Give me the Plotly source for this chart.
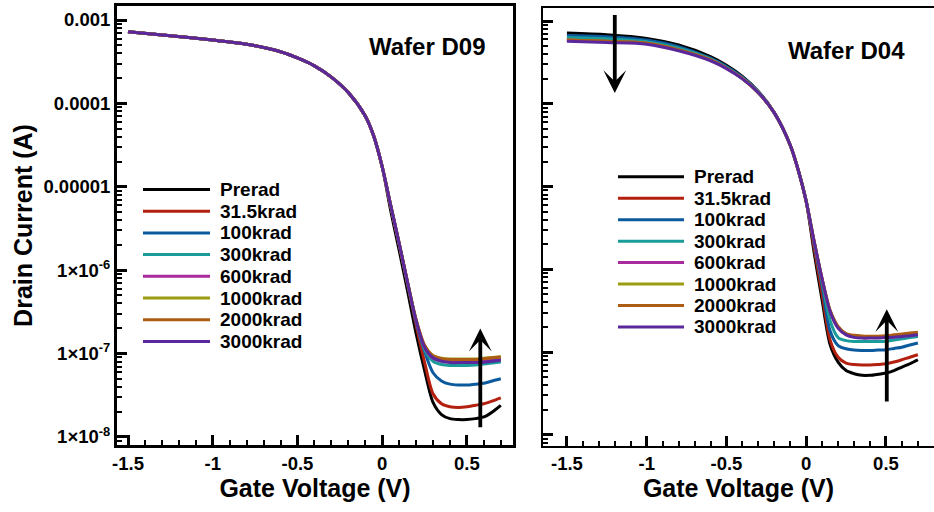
import plotly.graph_objects as go

W, H = 934, 512

# ---------------- data ----------------
gate_v = [-1.5, -1.25, -1.0, -0.8, -0.6, -0.5, -0.4, -0.3, -0.2, -0.1, -0.05, 0.0,
          0.05, 0.1, 0.15, 0.2, 0.25, 0.3, 0.35, 0.4, 0.45, 0.5, 0.55, 0.6, 0.65, 0.7]

doses = ["Prerad", "31.5krad", "100krad", "300krad", "600krad", "1000krad", "2000krad", "3000krad"]
colors = ["#000000", "#B3200F", "#0B5A9E", "#1A9C9A", "#A82A9C", "#9C9C12", "#AD5C14", "#5A289C"]

# Wafer D09: on-state part (-1.5 .. 0.0 V), identical for all doses
d09_head = [7.24e-4, 6.46e-4, 5.75e-4, 5.13e-4, 4.17e-4, 3.51e-4, 2.82e-4, 2.07e-4, 1.35e-4, 7.08e-5, 4.07e-5, 1.74e-5]
# Wafer D09: 0.05 .. 0.7 V
d09_prerad = [5.2e-6, 1.74e-6, 5.6e-7, 1.74e-7, 6.3e-8, 2.6e-8, 1.86e-8, 1.66e-8, 1.62e-8, 1.62e-8, 1.66e-8, 1.74e-8, 2.0e-8, 2.4e-8]
d09_31k = [5.9e-6, 2.05e-6, 6.8e-7, 2.2e-7, 7.9e-8, 3.3e-8, 2.5e-8, 2.3e-8, 2.26e-8, 2.3e-8, 2.4e-8, 2.5e-8, 2.7e-8, 2.95e-8]
d09_100k = [6.0e-6, 2.1e-6, 6.9e-7, 2.4e-7, 1.07e-7, 5.9e-8, 4.7e-8, 4.3e-8, 4.2e-8, 4.2e-8, 4.3e-8, 4.4e-8, 4.7e-8, 5.0e-8]
d09_300k = [6.0e-6, 2.1e-6, 7.0e-7, 2.5e-7, 1.12e-7, 8.1e-8, 7.4e-8, 7.2e-8, 7.2e-8, 7.2e-8, 7.3e-8, 7.5e-8, 7.7e-8, 7.9e-8]
d09_600k = [6.0e-6, 2.1e-6, 7.1e-7, 2.5e-7, 1.2e-7, 8.8e-8, 8.2e-8, 8.1e-8, 8.1e-8, 8.1e-8, 8.1e-8, 8.2e-8, 8.4e-8, 8.6e-8]
d09_1000k = [6.0e-6, 2.1e-6, 7.1e-7, 2.55e-7, 1.26e-7, 9.5e-8, 8.8e-8, 8.6e-8, 8.6e-8, 8.6e-8, 8.6e-8, 8.8e-8, 9.0e-8, 9.2e-8]
d09_2000k = [6.0e-6, 2.1e-6, 7.1e-7, 2.55e-7, 1.26e-7, 9.4e-8, 8.7e-8, 8.5e-8, 8.5e-8, 8.5e-8, 8.5e-8, 8.7e-8, 8.9e-8, 9.1e-8]
d09_3000k = [6.0e-6, 2.1e-6, 7.1e-7, 2.5e-7, 1.2e-7, 8.9e-8, 8.1e-8, 7.8e-8, 7.8e-8, 7.8e-8, 7.8e-8, 7.9e-8, 8.1e-8, 8.3e-8]

# Wafer D04: -1.5 .. 0.0 V
d04_prerad_on = [7.16e-4, 6.84e-4, 6.17e-4, 5.13e-4, 3.72e-4, 2.92e-4, 2.14e-4, 1.41e-4, 7.85e-5, 3.16e-5, 1.58e-5, 6.6e-6]
d04_31k_on = [6.17e-4, 5.96e-4, 5.5e-4, 4.57e-4, 3.43e-4, 2.72e-4, 2.04e-4, 1.38e-4, 7.76e-5, 3.16e-5, 1.58e-5, 6.6e-6]
d04_100k_on = [6.68e-4, 6.46e-4, 5.89e-4, 4.9e-4, 3.55e-4, 2.82e-4, 2.09e-4, 1.4e-4, 7.76e-5, 3.16e-5, 1.58e-5, 6.6e-6]
d04_300k_on = [6.31e-4, 6.1e-4, 5.62e-4, 4.68e-4, 3.47e-4, 2.75e-4, 2.04e-4, 1.38e-4, 7.76e-5, 3.16e-5, 1.58e-5, 6.76e-6]
d04_600k_on = [5.89e-4, 5.69e-4, 5.37e-4, 4.47e-4, 3.39e-4, 2.69e-4, 2.02e-4, 1.36e-4, 7.76e-5, 3.16e-5, 1.58e-5, 6.6e-6]
d04_1000k_on = [5.89e-4, 5.69e-4, 5.37e-4, 4.47e-4, 3.39e-4, 2.69e-4, 2.02e-4, 1.36e-4, 7.76e-5, 3.16e-5, 1.58e-5, 6.6e-6]
d04_2000k_on = [5.89e-4, 5.69e-4, 5.37e-4, 4.47e-4, 3.39e-4, 2.69e-4, 2.02e-4, 1.36e-4, 7.76e-5, 3.16e-5, 1.58e-5, 6.6e-6]
d04_3000k_on = [5.69e-4, 5.5e-4, 5.25e-4, 4.37e-4, 3.31e-4, 2.66e-4, 2.0e-4, 1.36e-4, 7.76e-5, 3.16e-5, 1.58e-5, 6.6e-6]
# Wafer D04: 0.05 .. 0.7 V
d04_prerad_off = [1.58e-6, 4.2e-7, 1.23e-7, 7.6e-8, 6.0e-8, 5.5e-8, 5.25e-8, 5.25e-8, 5.4e-8, 5.6e-8, 6.0e-8, 6.6e-8, 7.25e-8, 8.1e-8]
d04_31k_off = [1.8e-6, 5.0e-7, 1.4e-7, 8.7e-8, 7.4e-8, 7.1e-8, 7.0e-8, 7.0e-8, 7.1e-8, 7.25e-8, 7.6e-8, 8.1e-8, 8.7e-8, 9.3e-8]
d04_100k_off = [2.0e-6, 6.3e-7, 1.8e-7, 1.2e-7, 1.1e-7, 1.06e-7, 1.05e-7, 1.05e-7, 1.06e-7, 1.07e-7, 1.11e-7, 1.15e-7, 1.22e-7, 1.29e-7]
d04_300k_off = [2.1e-6, 7.1e-7, 2.4e-7, 1.5e-7, 1.38e-7, 1.35e-7, 1.35e-7, 1.35e-7, 1.35e-7, 1.36e-7, 1.4e-7, 1.45e-7, 1.5e-7, 1.55e-7]
d04_600k_off = [2.15e-6, 7.6e-7, 3.1e-7, 1.97e-7, 1.64e-7, 1.53e-7, 1.5e-7, 1.5e-7, 1.5e-7, 1.52e-7, 1.54e-7, 1.57e-7, 1.6e-7, 1.64e-7]
d04_1000k_off = [2.15e-6, 7.6e-7, 3.15e-7, 2.0e-7, 1.66e-7, 1.56e-7, 1.53e-7, 1.53e-7, 1.53e-7, 1.55e-7, 1.58e-7, 1.62e-7, 1.66e-7, 1.7e-7]
d04_2000k_off = [2.15e-6, 7.6e-7, 3.2e-7, 2.05e-7, 1.68e-7, 1.6e-7, 1.57e-7, 1.56e-7, 1.56e-7, 1.58e-7, 1.62e-7, 1.66e-7, 1.7e-7, 1.74e-7]
d04_3000k_off = [2.15e-6, 7.6e-7, 3.1e-7, 1.95e-7, 1.62e-7, 1.51e-7, 1.48e-7, 1.48e-7, 1.48e-7, 1.5e-7, 1.51e-7, 1.55e-7, 1.58e-7, 1.62e-7]

d09_series = [d09_head + s for s in
              [d09_prerad, d09_31k, d09_100k, d09_300k, d09_600k, d09_1000k, d09_2000k, d09_3000k]]
d04_series = [a + b for a, b in zip(
    [d04_prerad_on, d04_31k_on, d04_100k_on, d04_300k_on, d04_600k_on, d04_1000k_on, d04_2000k_on, d04_3000k_on],
    [d04_prerad_off, d04_31k_off, d04_100k_off, d04_300k_off, d04_600k_off, d04_1000k_off, d04_2000k_off, d04_3000k_off])]

y_tickvals = [1e-3, 1e-4, 1e-5, 1e-6, 1e-7, 1e-8]
y_ticktext = ["0.001", "0.0001", "0.00001", "1×10<sup>-6</sup>", "1×10<sup>-7</sup>", "1×10<sup>-8</sup>"]
x_tickvals = [-1.5, -1.0, -0.5, 0.0, 0.5]
x_ticktext = ["-1.5", "-1", "-0.5", "0", "0.5"]
x_minor = [-1.5 + 0.1 * i for i in range(23)]
y_minor = [m * 10.0 ** e for e in range(-9, -2) for m in range(2, 10)]

FONT = "Liberation Sans, Arial, Helvetica, sans-serif"

fig = go.Figure()
for name, col, ys in zip(doses, colors, d09_series):
    fig.add_trace(go.Scatter(x=gate_v, y=ys, mode="lines", name=name, showlegend=False,
                             line=dict(color=col, width=3, shape="spline", smoothing=0.8),
                             xaxis="x", yaxis="y"))
for name, col, ys in zip(doses, colors, d04_series):
    fig.add_trace(go.Scatter(x=gate_v, y=ys, mode="lines", name=name, showlegend=False,
                             line=dict(color=col, width=3, shape="spline", smoothing=0.8),
                             xaxis="x2", yaxis="y2"))

tickfont = dict(family=FONT, size=18.5, color="black", weight="bold")
titlefont = dict(family=FONT, size=25, color="black", weight="bold")

def xax(domain, rng, anchor, lw, title):
    return dict(domain=domain, range=rng, anchor=anchor, automargin=False,
                showline=True, linewidth=lw, linecolor="black", mirror=True,
                showgrid=False, zeroline=False,
                tickmode="array", tickvals=x_tickvals, ticktext=x_ticktext,
                ticks="inside", ticklen=10, tickwidth=2.5, tickcolor="black",
                minor=dict(tickmode="array", tickvals=x_minor, ticks="inside",
                           ticklen=5, tickwidth=2, tickcolor="black", showgrid=False),
                tickfont=tickfont,
                title=dict(text=title, font=titlefont, standoff=6))

def yax(domain, rng, anchor, lw, mirror, labels):
    return dict(type="log", domain=domain, range=rng, anchor=anchor, automargin=False,
                showline=True, linewidth=lw, linecolor="black", mirror=mirror,
                showgrid=False, zeroline=False,
                tickmode="array", tickvals=y_tickvals, ticktext=y_ticktext,
                showticklabels=labels,
                ticks="inside", ticklen=10, tickwidth=3, tickcolor="black",
                minor=dict(tickmode="array", tickvals=y_minor, ticks="inside",
                           ticklen=5, tickwidth=2, tickcolor="black", showgrid=False),
                tickfont=tickfont)

shapes = []
annotations = []

# legends drawn as line samples + labels (pixel layout of the original)
def add_legend(x0, x1, xt, y0, dy):
    for i, (name, col) in enumerate(zip(doses, colors)):
        yy = 1 - (y0 + dy * i) / H
        shapes.append(dict(type="line", xref="paper", yref="paper",
                           x0=x0 / W, x1=x1 / W, y0=yy, y1=yy,
                           line=dict(color=col, width=3)))
        annotations.append(dict(text=name, xref="paper", yref="paper",
                                x=xt / W, y=yy, xanchor="left", yanchor="middle",
                                showarrow=False,
                                font=dict(family=FONT, size=19, color="black", weight="bold")))

add_legend(143, 210, 218, 189.5, 21.7)
add_legend(618, 684, 692, 176.8, 21.45)

annotations.append(dict(text="Wafer D09", xref="x domain", yref="y domain", x=0.783, y=0.907,
                        xanchor="center", yanchor="middle", showarrow=False,
                        font=dict(family=FONT, size=24, color="black", weight="bold")))
annotations.append(dict(text="Wafer D04", xref="x2 domain", yref="y2 domain", x=0.775, y=0.902,
                        xanchor="center", yanchor="middle", showarrow=False,
                        font=dict(family=FONT, size=24, color="black", weight="bold")))

# arrows (head x, head log10 y, tail x, tail log10 y)
arrow_d09 = [0.579, -6.70, 0.579, -7.90]
arrow_d04_up = [0.505, -6.48, 0.505, -7.615]
arrow_d04_down = [-1.20, -3.87, -1.20, -2.91]
for (hx, hy, tx, ty), xr, yr in [(arrow_d09, "x", "y"), (arrow_d04_up, "x2", "y2"),
                                  (arrow_d04_down, "x2", "y2")]:
    annotations.append(dict(text="", x=hx, y=hy, ax=tx, ay=ty, xref=xr, yref=yr,
                            axref=xr, ayref=yr, showarrow=True, arrowhead=3,
                            arrowsize=1, arrowwidth=3.8, arrowcolor="black", standoff=0))

fig.update_layout(
    width=W, height=H,
    margin=dict(l=0, r=0, t=0, b=0),
    paper_bgcolor="white", plot_bgcolor="white",
    font=dict(family=FONT, color="black"),
    xaxis=xax([117 / W, 513 / W], [-1.565, 0.772], "y", 3, "Gate Voltage (V)"),
    yaxis=dict(yax([1 - 445 / H, 1 - 6 / H], [-8.096, -2.832], "x", 3, True, True),
               title=dict(text="Drain Current (A)", font=titlefont, standoff=4)),
    xaxis2=xax([543 / W, 1.0], [-1.650, 0.801], "y2", 2, "Gate Voltage (V)"),
    yaxis2=yax([1 - 446 / H, 1 - 8 / H], [-8.133, -2.843], "x2", 2, False, False),
    shapes=shapes,
    annotations=annotations,
    showlegend=False,
)

fig.write_html("out.html")
